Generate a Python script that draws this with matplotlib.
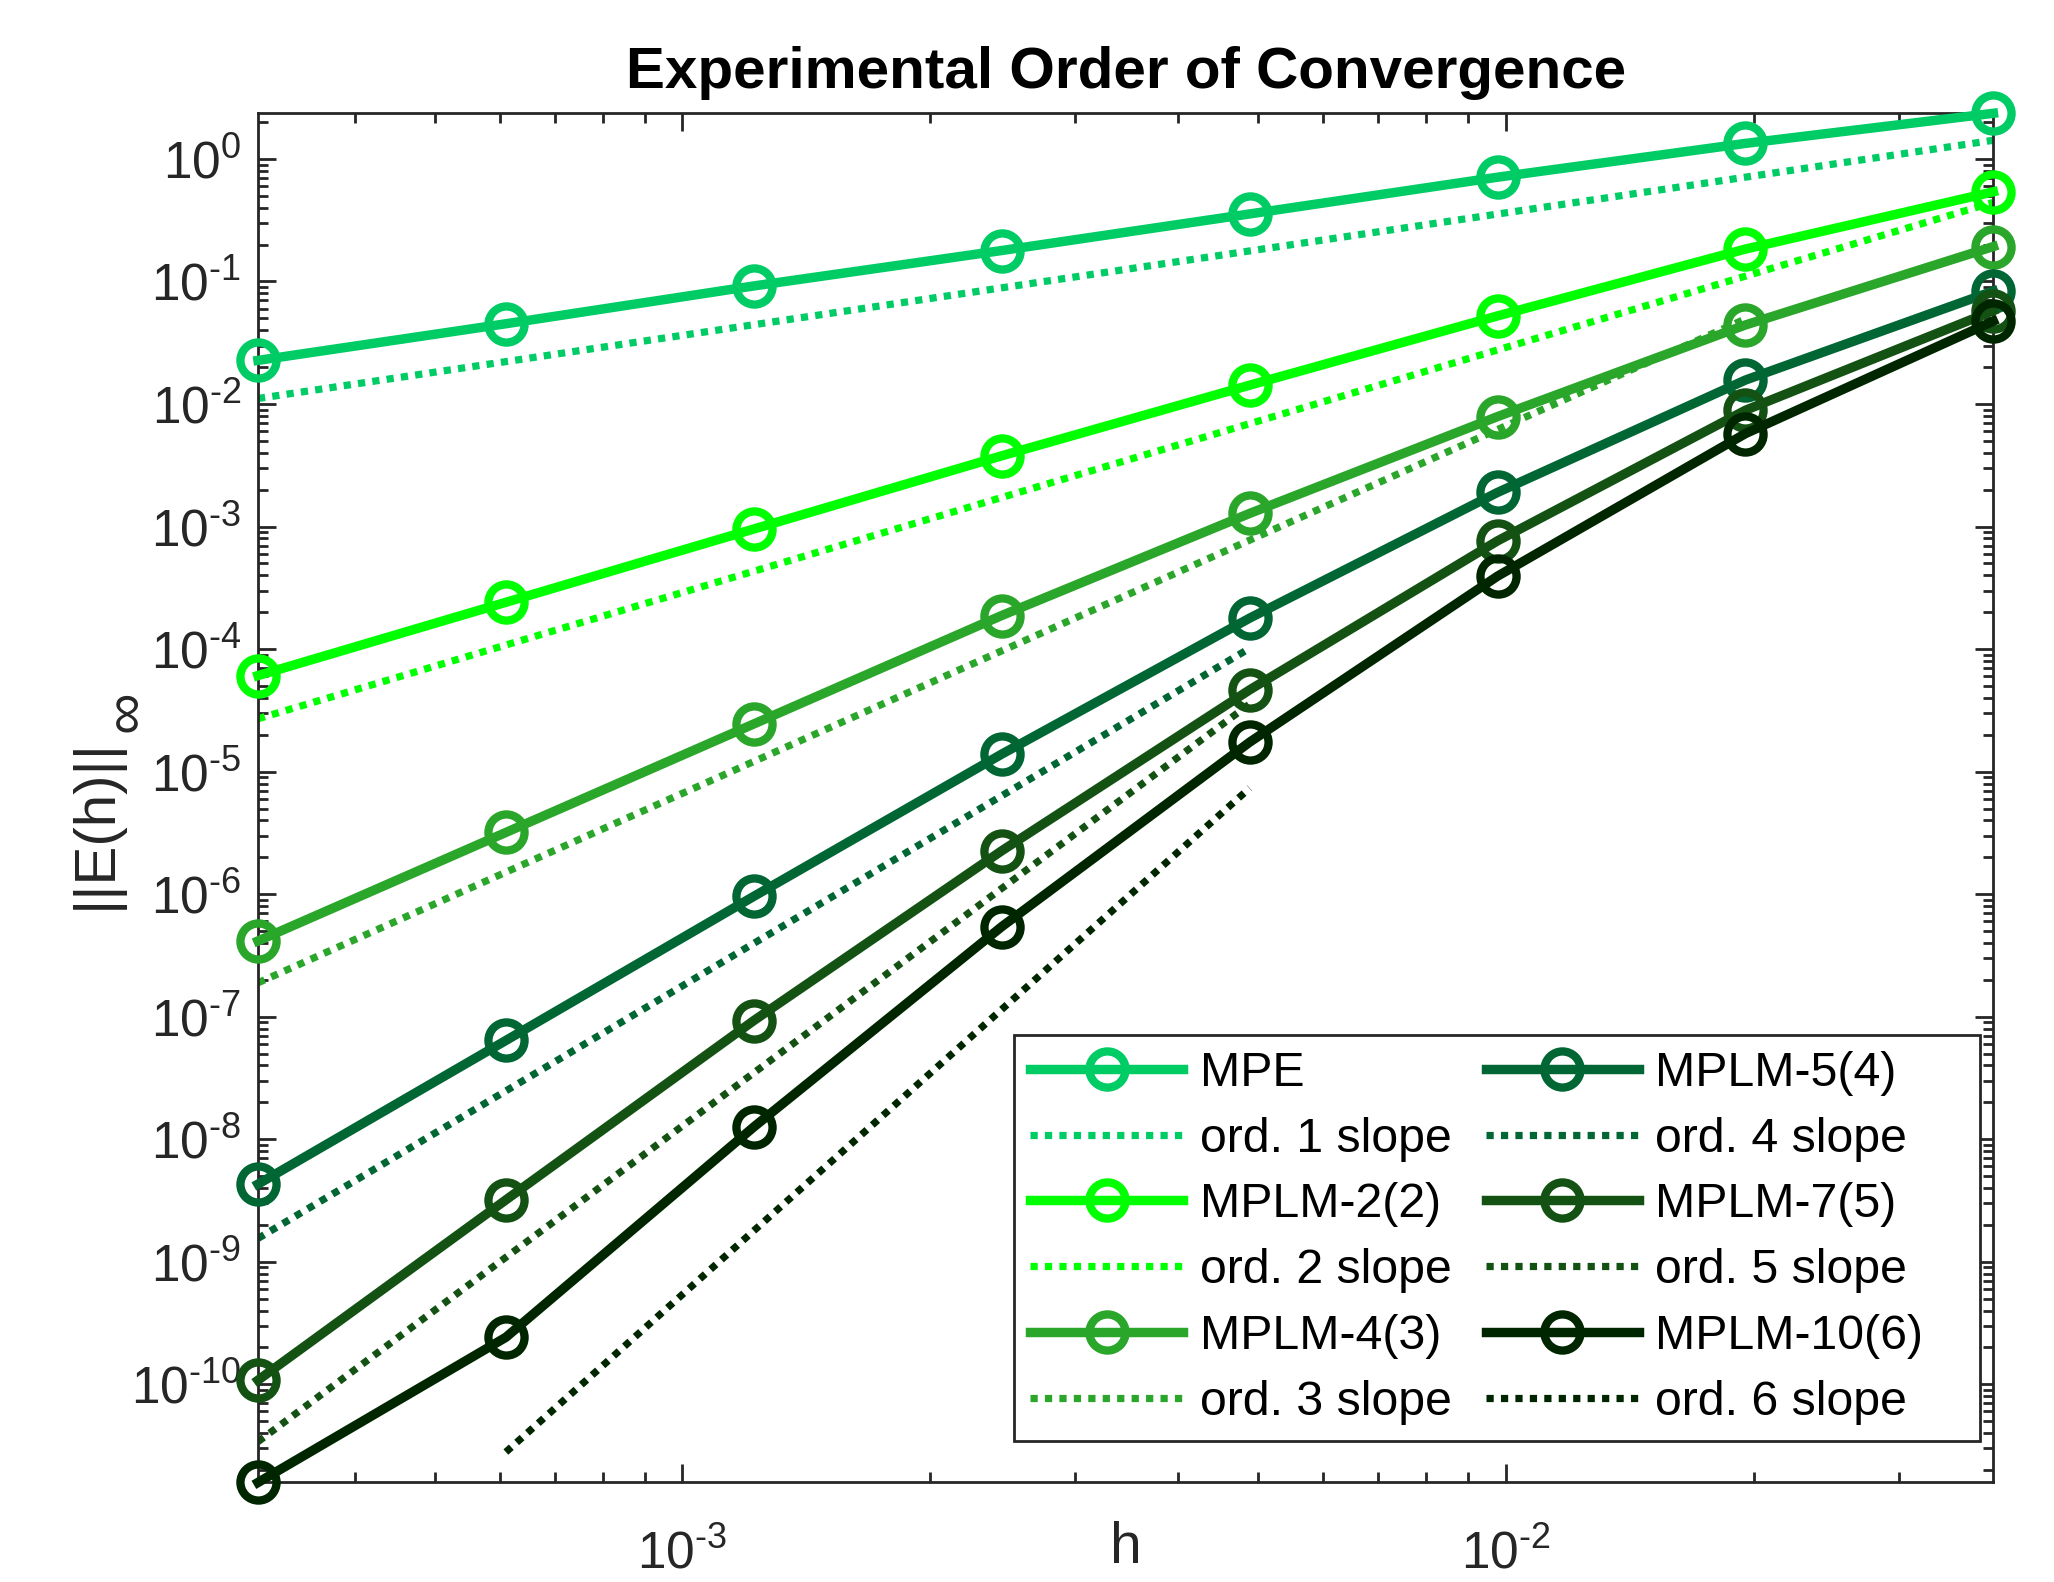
import numpy as np
import matplotlib
matplotlib.use('Agg')
import matplotlib.pyplot as plt
from matplotlib.ticker import FixedLocator, LogLocator, NullFormatter, FuncFormatter

plt.rcParams['font.family'] = ['Liberation Sans', 'DejaVu Sans']
plt.rcParams['mathtext.fontset'] = 'custom'
plt.rcParams['mathtext.rm'] = 'Liberation Sans'
plt.rcParams['mathtext.it'] = 'Liberation Sans:italic'
plt.rcParams['mathtext.bf'] = 'Liberation Sans:bold'

# step sizes (coarse -> fine)
h = [0.0390625, 0.01953125, 0.009765625, 0.0048828125,
     0.00244140625, 0.001220703125, 0.0006103515625, 0.00030517578125]

# max-norm errors
err_mpe = [2.36, 1.34, 0.71, 0.356, 0.179, 0.092, 0.0452, 0.0227]
err_mplm2 = [0.54, 0.184, 0.0524, 0.01425, 3.78e-3, 9.55e-4, 2.41e-4, 6.08e-5]
err_mplm4 = [0.193, 0.0442, 7.9e-3, 1.28e-3, 1.88e-4, 2.45e-5, 3.19e-6, 4.15e-7]
err_mplm5 = [0.0836, 0.0157, 1.9e-3, 1.79e-4, 1.39e-5, 9.6e-7, 6.4e-8, 4.3e-9]
err_mplm7 = [0.0578, 8.9e-3, 7.65e-4, 4.65e-5, 2.26e-6, 9.3e-8, 3.2e-9, 1.08e-10]
err_mplm10 = [0.0475, 5.74e-3, 3.94e-4, 1.74e-5, 5.43e-7, 1.26e-8, 2.42e-10, 1.58e-11]

methods = ['MPE', 'MPLM-2(2)', 'MPLM-4(3)', 'MPLM-5(4)', 'MPLM-7(5)', 'MPLM-10(6)']
errors = [err_mpe, err_mplm2, err_mplm4, err_mplm5, err_mplm7, err_mplm10]
colors = ['#00CC66', '#00FF00', '#2AA62A', '#006633', '#145214', '#002600']

# reference slope lines: order, h range (indices into h), value at the fine end
slope_orders = [1, 2, 3, 4, 5, 6]
slope_i_fine = [7, 7, 7, 7, 7, 6]
slope_i_coarse = [0, 0, 1, 3, 3, 3]
slope_y_fine = [0.0111, 2.7e-5, 1.89e-7, 1.55e-9, 3.4e-11, 2.8e-11]

yticks = [10.0 ** k for k in range(-10, 1)]
xticks = [1e-3, 1e-2]

W, H, DPI = 2054, 1582, 200


def pow10(v, pos):
    # short hyphen in the exponent, like the original
    e = int(round(np.log10(v)))
    s = str(e).replace('-', '\u2010')
    return f'$10^{{{s}}}$'


fig = plt.figure(figsize=(W / DPI, H / DPI), dpi=DPI)
ax = fig.add_axes([0.1256, 0.0629, 0.8449, 0.8655])
ax.set_xscale('log')
ax.set_yscale('log')

handles = []
for k, (name, e, c, p, i0, i1, ys) in enumerate(zip(
        methods, errors, colors, slope_orders,
        slope_i_fine, slope_i_coarse, slope_y_fine)):
    # second legend column gets a little trailing room, as in the original
    tail = '   ' if k >= 3 else ''
    ln, = ax.plot(h, e, '-o', color=c, lw=3.4, ms=13, mew=3, mfc='none',
                  zorder=3, label=name + tail, clip_on=False)
    hs, he = h[i0], h[i1]
    ye = ys * (he / hs) ** p
    sl, = ax.plot([hs, he], [ys, ye], color=c, lw=2.6, ls=(0, (1, 1)),
                  dash_capstyle='butt', zorder=2,
                  label=f'ord. {p} slope' + tail)
    handles += [ln, sl]

all_err = np.concatenate(errors)
ax.set_xlim(min(h), max(h))
ax.set_ylim(all_err.min(), all_err.max())

ax.xaxis.set_major_locator(FixedLocator(xticks))
ax.yaxis.set_major_locator(FixedLocator(yticks))
ax.xaxis.set_major_formatter(FuncFormatter(pow10))
ax.yaxis.set_major_formatter(FuncFormatter(pow10))
ax.xaxis.set_minor_locator(LogLocator(base=10, subs=np.arange(2, 10), numticks=20))
ax.yaxis.set_minor_locator(LogLocator(base=10, subs=np.arange(2, 10), numticks=20))
ax.yaxis.set_minor_formatter(NullFormatter())
ax.xaxis.set_minor_formatter(NullFormatter())

gray = '#262626'
ax.tick_params(which='both', direction='in', top=True, right=True,
               color=gray, labelcolor=gray, labelsize=18.5, width=1, pad=6)
ax.tick_params(axis='x', which='major', pad=17)
ax.tick_params(which='major', length=6.5)
ax.tick_params(which='minor', length=3.6)
for s in ax.spines.values():
    s.set_color(gray)
    s.set_linewidth(1)

ax.set_title('Experimental Order of Convergence', fontsize=21,
             fontweight='bold', pad=9)
ax.set_xlabel('h', fontsize=20.5, color=gray)
ax.set_ylabel('||E(h)||', fontsize=21, color=gray)
ax.xaxis.set_label_coords(0.5, -0.028)
ax.yaxis.set_label_coords(-0.078, 0.481)

leg = ax.legend(handles=handles, ncol=2, loc='lower right',
                bbox_to_anchor=(0.992, 0.0306), borderaxespad=0,
                fontsize=17.4, handlelength=3.15, handletextpad=0.35,
                columnspacing=0.72, labelspacing=0.43, borderpad=0.33,
                fancybox=False, framealpha=1, edgecolor=gray)
leg.get_frame().set_linewidth(1)
leg._legend_box.sep = 0  # no gap reserved for the (empty) legend title

# infinity subscript of the y label, full size, just past the label's end
fig.canvas.draw()
bb = ax.yaxis.label.get_window_extent(renderer=fig.canvas.get_renderer())
fig.text((bb.x1 + 5) / W, (bb.y1 + 6) / H, '\u221e', rotation=90,
         ha='center', va='bottom', fontsize=21, color=gray)

fig.savefig('out.png', dpi=DPI)
